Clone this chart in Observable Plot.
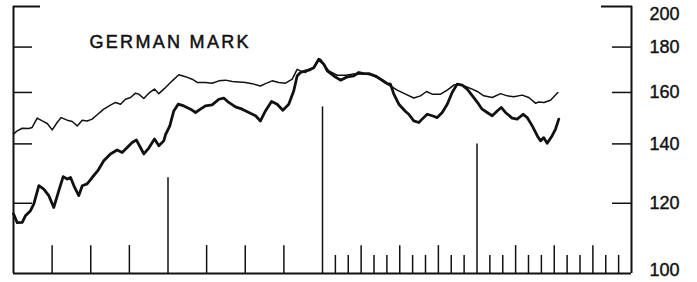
<!DOCTYPE html>
<html>
<head>
<meta charset="utf-8">
<script src="https://cdn.jsdelivr.net/npm/d3@7"></script>
<script src="https://cdn.jsdelivr.net/npm/@observablehq/plot@0.6"></script>
<style>
  html, body { margin: 0; padding: 0; background: #fff; }
  #chart svg { display: block; }
</style>
</head>
<body>
<div id="chart"></div>
<script>
const title = "GERMAN MARK";

// months since the start of the chart (4 years = 48 months)
const xDomain = [0, 48];
const yDomain = [100, 200];

// thin line (index)
const thinMonths = [0,0.29,0.68,1.19,1.45,1.84,2.23,2.62,3.01,3.39,3.70,4.17,4.56,4.95,5.34,5.72,6.11,6.50,7.01,7.53,7.92,8.31,8.70,9.09,9.48,9.73,10.12,10.51,10.95,11.29,11.67,11.81,12.33,12.84,13.36,13.88,14.27,14.91,15.43,15.95,16.47,16.99,17.50,18.02,18.54,19.18,19.57,20.09,20.61,21.13,21.65,22.03,22.29,22.68,22.94,23.32,23.71,23.84,24.10,24.49,25.14,25.79,26.31,26.70,27.21,27.73,28.25,28.76,29.28,29.80,30.45,31.09,31.61,32.08,32.52,33.17,33.69,34.20,34.59,35.11,35.63,36.02,36.53,37.18,37.83,38.35,38.86,39.51,40.02,40.54,40.80,41.19,41.71,42.28];
const thinValues = [143.7,144.8,145.8,145.7,146.1,149.7,148.6,147.6,145.2,148.0,149.9,148.9,148.4,146.7,148.9,148.6,149.3,151.0,153.2,154.8,155.9,155.2,157.2,157.9,159.7,159.3,157.5,159.7,161.4,159.5,161.4,162.1,164.9,167.5,166.7,165.6,164.2,164.2,163.9,164.9,165.2,164.6,164.4,164.2,163.7,162.7,163.7,164.9,164.2,163.9,165.6,169.9,169.2,168.5,169.9,170.6,174.5,174.4,172.2,169.2,167.3,167.3,167.8,168.0,167.8,167.5,166.3,164.4,162.7,161.0,159.3,157.7,158.6,160.4,159.3,159.3,161.0,163.1,163.5,162.5,161.4,160.4,158.6,157.9,159.5,158.6,158.2,158.9,157.9,155.6,156.1,155.9,156.8,160.0];

// thick line (German mark)
const thickMonths = [0,0.29,0.68,0.93,1.32,1.58,1.97,2.35,2.74,3.13,3.52,3.86,4.17,4.43,4.74,5.07,5.34,5.72,6.11,6.55,7.01,7.53,8.05,8.44,8.83,9.22,9.55,9.86,10.12,10.51,10.95,11.29,11.67,11.81,12.14,12.45,12.79,13.23,13.75,14.14,14.52,14.91,15.43,15.95,16.33,16.72,17.24,17.76,18.28,18.80,19.18,19.57,20.04,20.48,20.92,21.38,21.77,22.03,22.29,22.68,22.94,23.32,23.71,24.10,24.37,24.88,25.40,25.92,26.43,26.82,27.21,27.60,28.12,28.64,29.03,29.28,29.54,29.93,30.45,30.70,31.09,31.48,31.74,32.13,32.52,32.91,33.30,33.69,34.07,34.46,34.85,35.24,35.75,36.12,36.40,36.79,37.18,37.57,37.88,38.21,38.73,39.12,39.59,39.90,40.29,40.68,40.93,41.19,41.45,41.84,42.10,42.35];
const thickValues = [116.8,114.1,114.2,116.2,117.7,119.8,125.6,124.5,122.4,118.7,124.0,128.6,127.8,128.3,125.1,122.4,125.6,126.2,128.3,130.6,134.0,136.4,137.8,136.9,138.7,140.5,141.4,138.7,136.4,138.5,141.8,139.3,141.1,143.4,146.7,152.5,155.2,154.5,153.2,151.9,153.2,154.5,154.9,157.2,157.7,155.9,154.1,153.2,151.9,150.6,148.6,152.5,156.3,155.2,152.8,155.2,160.7,167.0,168.5,169.2,169.5,170.6,174.4,172.2,169.2,167.0,165.2,166.6,167.0,168.5,168.0,168.0,167.0,165.2,163.7,163.5,159.3,155.2,152.3,151.2,148.6,148.0,149.3,151.2,150.6,149.9,151.9,155.2,160.0,163.5,163.1,161.4,157.9,155.3,153.2,151.9,150.6,152.5,153.9,151.9,149.7,149.3,151.2,149.9,146.7,143.0,141.1,142.3,140.2,143.0,145.5,149.3];

// time ticks on the baseline: month position and the index level of their top
const tickMonths = [3,6,9,12,15,18,21,24,25,26,27,28,29,30,31,32,33,34,35,36,37,38,39,40,41,42,43,44,45,46,47];
const tickTops   = [107.5,107.5,107.5,128.2,107.5,107.5,107.5,154.1,104.8,104.8,107.5,104.8,104.8,107.5,104.8,104.8,107.5,104.8,104.8,140.0,104.8,104.8,107.5,104.8,104.8,107.5,104.8,104.8,107.5,104.8,104.8];

// right-hand scale
const yTicks = [120, 140, 160, 180];
const yTopLabel = [200];
const yBottomLabel = [100];

const thin = thinMonths.map((m, i) => ({month: m, value: thinValues[i]}));
const thick = thickMonths.map((m, i) => ({month: m, value: thickValues[i]}));
const timeTicks = tickMonths.map((m, i) => ({month: m, top: tickTops[i]}));

const ink = "#111";
const font = "'Liberation Sans', Arial, Helvetica, sans-serif";
const labelStyle = {frameAnchor: "right", textAnchor: "start", dx: 18, fontSize: 18, fill: ink, stroke: ink, strokeWidth: 0.4};

const chart = Plot.plot({
  width: 697,
  height: 282,
  marginLeft: 13,
  marginRight: 66,
  marginTop: 6,
  marginBottom: 9,
  style: {fontFamily: font, background: "#fff", color: ink},
  x: {domain: xDomain, axis: null},
  y: {type: "log", domain: yDomain, axis: null},
  marks: [
    // baseline time ticks
    Plot.ruleX(timeTicks, {x: "month", y1: yDomain[0], y2: "top", stroke: ink, strokeWidth: 1.5}),
    // frame
    Plot.ruleX(xDomain, {y1: yDomain[0], y2: yDomain[1], stroke: ink, strokeWidth: 2}),
    Plot.ruleY([yDomain[0]], {x1: xDomain[0], x2: xDomain[1], stroke: ink, strokeWidth: 2}),
    // inward ticks
    Plot.axisY({anchor: "left", ticks: yTicks, tickSize: -19, fill: "none", label: null, stroke: ink, strokeWidth: 1.5}),
    Plot.axisY({anchor: "right", ticks: yTicks, tickSize: -20, fill: "none", label: null, stroke: ink, strokeWidth: 1.5}),
    Plot.axisY({anchor: "left", ticks: yTopLabel, tickSize: -27, fill: "none", label: null, stroke: ink, strokeWidth: 2}),
    Plot.axisY({anchor: "right", ticks: yTopLabel, tickSize: -31, fill: "none", label: null, stroke: ink, strokeWidth: 2}),
    // labels
    Plot.text(yTicks, {y: d => d, text: d => String(d), ...labelStyle}),
    Plot.text(yTopLabel, {y: d => d, text: d => String(d), ...labelStyle, dy: 7.5}),
    Plot.text(yBottomLabel, {y: d => d, text: d => String(d), ...labelStyle, dy: -3}),
    // series
    Plot.line(thin, {x: "month", y: "value", stroke: ink, strokeWidth: 1.5, strokeLinejoin: "round"}),
    Plot.line(thick, {x: "month", y: "value", stroke: ink, strokeWidth: 2.8, strokeLinejoin: "round"}),
    // title
    Plot.text([title], {frameAnchor: "top-left", textAnchor: "start", lineAnchor: "top", dx: 76, dy: 29, fontSize: 18, fill: ink, stroke: ink, strokeWidth: 0.5})
  ]
});

// widen the title's letter spacing as in the printed original
d3.select(chart).selectAll("text").filter(function() { return this.textContent === title; })
  .style("letter-spacing", "2.3px");

document.getElementById("chart").appendChild(chart);
</script>
</body>
</html>
